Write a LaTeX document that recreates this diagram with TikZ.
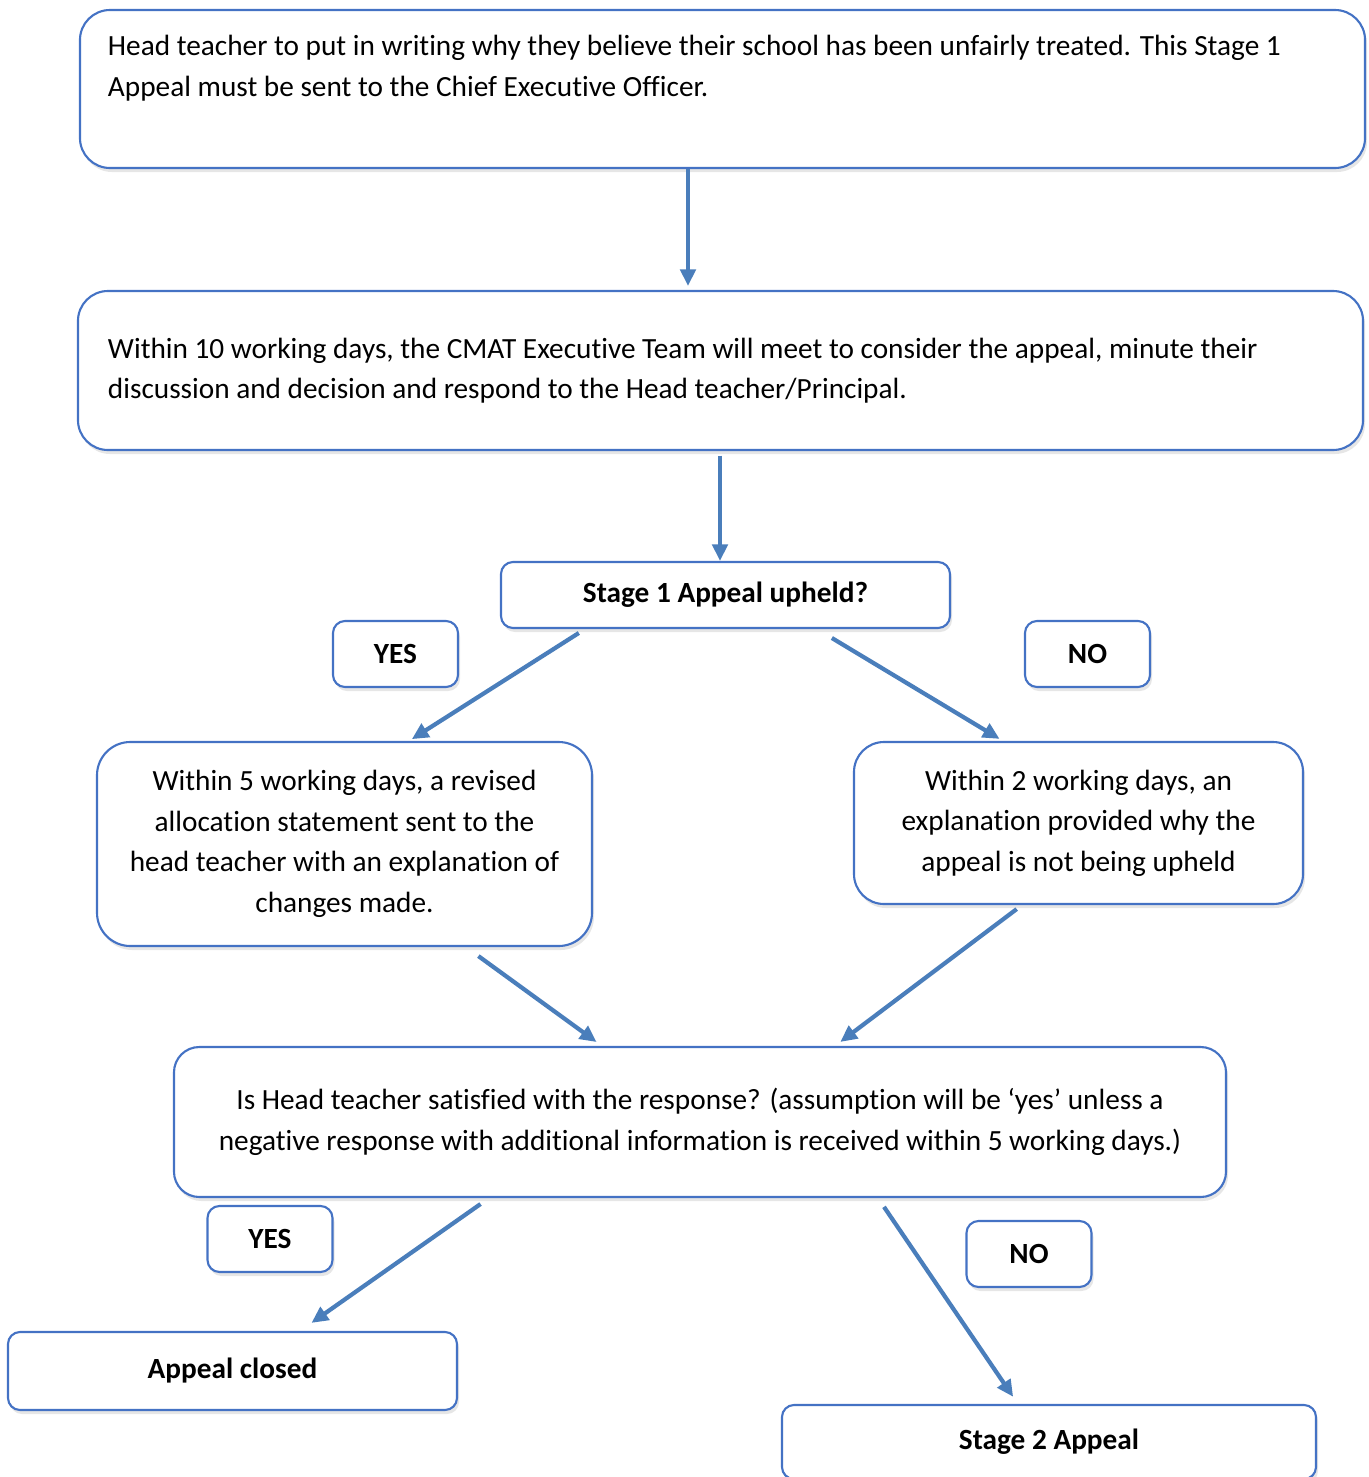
\documentclass[tikz,border=0pt]{standalone}
\usepackage{fontspec}
\setmainfont[Ligatures=NoCommon]{Carlito}
\usetikzlibrary{arrows.meta,shadows}
\definecolor{boxblue}{HTML}{4472C4}
\definecolor{arrowblue}{HTML}{4A7EBB}
\newcommand\boxfont{\fontsize{12.5}{17.3}\selectfont}
\tikzset{>={Triangle[length=0.25cm,width=0.23cm]},
  box/.style={draw=boxblue, line width=0.9pt, rounded corners=0.45cm, fill=white,
    drop shadow={shadow xshift=0.03cm, shadow yshift=-0.06cm, opacity=0.2},
    font=\boxfont, align=center},
  tag/.style={box, rounded corners=0.18cm, font=\boxfont\bfseries,
    minimum width=1.875cm, minimum height=0.99cm},
  flow/.style={->, draw=arrowblue, line width=1.8pt}}

\begin{document}
\begin{tikzpicture}[x=0.015cm, y=-0.015cm]
\useasboundingbox (0,0) rectangle (1369,1477);
% boxes
\node[box, inner xsep=0.42cm, inner ysep=0.38cm, minimum width=19.275cm] (head) at (722.5,89)
  {\parbox[c][1.61cm][t]{18.435cm}{\boxfont\raggedright Head teacher to put in writing why they believe their school has been unfairly treated. This Stage 1\\
  Appeal must be sent to the Chief Executive Officer.}};
\node[box, inner xsep=0.45cm, minimum width=19.275cm, minimum height=2.385cm] (team) at (720.5,370.5)
  {\parbox{18.375cm}{\boxfont\raggedright Within 10 working days, the CMAT Executive Team will meet to consider the appeal, minute their\\
  discussion and decision and respond to the Head teacher/Principal.}};
\node[box, rounded corners=0.18cm, font=\boxfont\bfseries,
  minimum width=6.735cm, minimum height=0.99cm] (upheld) at (725.5,595) {Stage 1 Appeal upheld?};
\node[tag] (yes1) at (395.5,654) {YES};
\node[tag] (no1) at (1087.5,654) {NO};
\node[box, rounded corners=0.5cm, minimum width=7.425cm, minimum height=3.06cm] (revised) at (344.5,844)
  {Within 5 working days, a revised\\ allocation statement sent to the\\
  head teacher with an explanation of\\ changes made.};
\node[box, minimum width=6.735cm, minimum height=2.43cm] (explain) at (1078.5,823)
  {Within 2 working days, an\\ explanation provided why the\\ appeal is not being upheld};
\node[box, rounded corners=0.38cm, minimum width=15.78cm, minimum height=2.25cm] (satisfied) at (700,1122)
  {Is Head teacher satisfied with the response? (assumption will be ‘yes’ unless a\\
  negative response with additional information is received within 5 working days.)};
\node[tag] (yes2) at (270,1239) {YES};
\node[tag] (no2) at (1029,1254) {NO};
\node[tag, minimum width=6.735cm, minimum height=1.17cm] (closed) at (232.5,1371) {Appeal closed};
\node[tag, minimum width=8.01cm, minimum height=1.11cm] (stage2) at (1049,1442) {Stage 2 Appeal};
% arrows
\draw[flow, shorten >=0.06cm] (head.south -| 688,0) -- (team.north -| 688,0);
\draw[flow, shorten <=0.07cm] (team.south -| 720,0) -- (upheld.north -| 720,0);
\draw[flow, shorten <=0.11cm, shorten >=0.05cm] (upheld.south -| 585,0) -- (revised.north -| 409,0);
\draw[flow, shorten <=0.26cm, shorten >=0.06cm] (upheld.south -| 817,0) -- (explain.north -| 1003,0);
\draw[flow, shorten <=0.23cm, shorten >=0.1cm] (revised.south -| 466,0) -- (satisfied.north -| 602,0);
\draw[flow, shorten <=0.1cm, shorten >=0.1cm] (explain.south -| 1022,0) -- (satisfied.north -| 835,0);
\draw[flow, shorten <=0.155cm, shorten >=0.21cm] (satisfied.south -| 489,0) -- (closed.north -| 300,0);
\draw[flow, shorten <=0.16cm, shorten >=0.13cm] (satisfied.south -| 878,0) -- (stage2.north -| 1018,0);
\end{tikzpicture}
\end{document}
